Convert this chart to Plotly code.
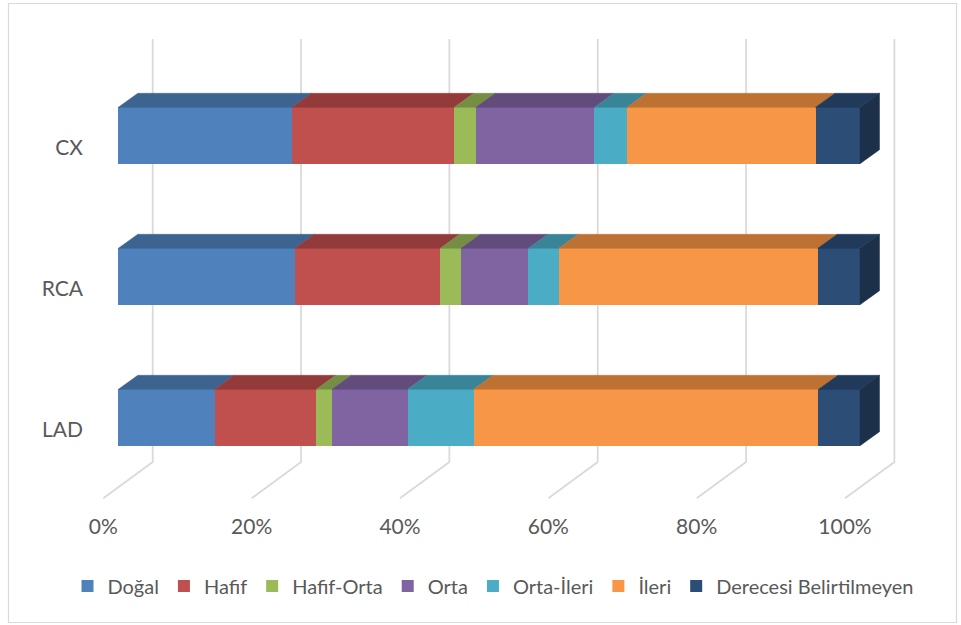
import plotly.graph_objects as go

# ---- data (percent of lesions per severity class) ----
categories = ["LAD", "RCA", "CX"]          # bottom to top
series_names = ["Doğal", "Hafif", "Hafif-Orta", "Orta", "Orta-İleri", "İleri",
                "Derecesi Belirtilmeyen"]
dogal = [13.0, 23.8, 23.4]
hafif = [13.7, 19.6, 21.9]
hafif_orta = [2.1, 2.8, 2.9]
orta = [10.2, 9.1, 16.0]
orta_ileri = [8.9, 4.1, 4.4]
ileri = [46.5, 34.9, 25.4]
derecesi = [5.6, 5.7, 6.0]
tick_values = [0, 20, 40, 60, 80, 100]
tick_labels = ["0%", "20%", "40%", "60%", "80%", "100%"]

series_values = [dogal, hafif, hafif_orta, orta, orta_ileri, ileri, derecesi]

# ---- styling ----
front_colors = ["#4F81BD", "#C0504D", "#9BBB59", "#8064A2", "#4BACC6", "#F79646", "#2C4D75"]
top_colors = ["#3D6490", "#923B3A", "#758E44", "#624C7C", "#3A8497", "#BD7234", "#213A5A"]
side_color = "#1D304A"
grid_color = "#D9D9D9"
text_color = "#595959"
font_family = "Lato"

W, H = 961, 625
L, R, T, B = 86, 945, 30, 500          # plot-area edges in pixels
X0_PX, X_SCALE = 118.3, 7.417          # pixel of 0 % and pixels per percent
Y0_PX, Y_SCALE = 417.5, 141.0          # pixel of first category and pixels per category

BAR_W = 0.4                             # bar thickness in category units
DEPTH_X = 19.5 / X_SCALE                # 3-D depth offset (percent units)
DEPTH_Y = 14.0 / Y_SCALE                # 3-D depth offset (category units)
WALL_X = 34.4 / X_SCALE                 # back wall offset
FLOOR_X = -15.0 / X_SCALE               # floor front edge offset
WALL_TOP = (Y0_PX - 39) / Y_SCALE
WALL_BOTTOM = (Y0_PX - 462) / Y_SCALE
FLOOR_FRONT = (Y0_PX - 498.3) / Y_SCALE

positions = list(range(len(categories)))

fig = go.Figure()

# front faces of the stacked bars
for name, vals, col in zip(series_names, series_values, front_colors):
    fig.add_trace(go.Bar(
        y=positions, x=vals, name=name, orientation="h", width=BAR_W,
        marker=dict(color=col, line=dict(width=0)), hoverinfo="skip",
    ))

# top faces of each segment and right side face of each bar
for i, p in enumerate(positions):
    start = 0.0
    yt = p + BAR_W / 2
    yb = p - BAR_W / 2
    for vals, col in zip(series_values, top_colors):
        end = start + vals[i]
        fig.add_trace(go.Scatter(
            x=[start, end, end + DEPTH_X, start + DEPTH_X, start],
            y=[yt, yt, yt + DEPTH_Y, yt + DEPTH_Y, yt],
            mode="lines", fill="toself", fillcolor=col,
            line=dict(color=col, width=0.5), showlegend=False, hoverinfo="skip",
        ))
        start = end
    fig.add_trace(go.Scatter(
        x=[start, start + DEPTH_X, start + DEPTH_X, start, start],
        y=[yt, yt + DEPTH_Y, yb + DEPTH_Y, yb, yt],
        mode="lines", fill="toself", fillcolor=side_color,
        line=dict(color=side_color, width=0.5), showlegend=False, hoverinfo="skip",
    ))

# back-wall gridlines and their floor continuation
shapes = []
for t in tick_values:
    shapes.append(dict(
        type="path", xref="x", yref="y", layer="below",
        path=f"M{t + WALL_X},{WALL_TOP} L{t + WALL_X},{WALL_BOTTOM} L{t + FLOOR_X},{FLOOR_FRONT}",
        line=dict(color=grid_color, width=1.75),
    ))

# chart border
plot_w, plot_h = R - L, B - T
def px_to_paper_x(px):
    return (px - L) / plot_w
def px_to_paper_y(py):
    return (B - py) / plot_h
shapes.append(dict(
    type="rect", xref="paper", yref="paper", layer="below",
    x0=px_to_paper_x(8.5), x1=px_to_paper_x(956.5),
    y0=px_to_paper_y(622.5), y1=px_to_paper_y(3.5),
    line=dict(color="#D9D9D9", width=1.2), fillcolor="rgba(0,0,0,0)",
))

tick_font = dict(family=font_family, color=text_color, size=21)
legend_font = dict(family=font_family, color=text_color, size=20)

fig.update_layout(
    width=W, height=H,
    margin=dict(l=L, r=W - R, t=T, b=H - B, autoexpand=False),
    paper_bgcolor="white", plot_bgcolor="white",
    barmode="stack", bargap=0,
    shapes=shapes,
    font=tick_font,
    xaxis=dict(
        range=[(L - X0_PX) / X_SCALE, (R - X0_PX) / X_SCALE],
        showgrid=False, zeroline=False, showline=False,
        tickvals=[t + FLOOR_X for t in tick_values], ticktext=tick_labels,
        ticks="", ticklabelstandoff=12, tickfont=tick_font,
    ),
    yaxis=dict(
        range=[(Y0_PX - B) / Y_SCALE, (Y0_PX - T) / Y_SCALE],
        showgrid=False, zeroline=False, showline=False,
        tickvals=[p - 12 / Y_SCALE for p in positions], ticktext=categories,
        ticks="", ticklabelstandoff=2, tickfont=tick_font,
    ),
    legend=dict(
        orientation="h", xref="container", yref="container",
        x=493 / W, xanchor="center", y=1 - 586 / H, yanchor="middle",
        font=legend_font,
        traceorder="normal", itemclick=False, itemdoubleclick=False,
    ),
    showlegend=True,
)

fig.write_html("out.html")
